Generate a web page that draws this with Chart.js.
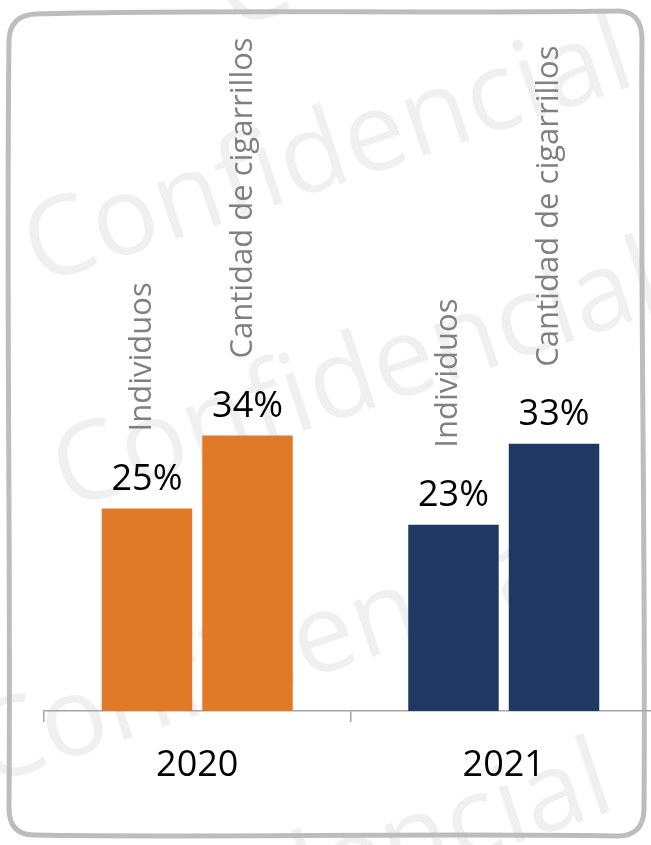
<!DOCTYPE html>
<html>
<head>
<meta charset="utf-8">
<script src="https://cdn.jsdelivr.net/npm/chart.js@4.4.1/dist/chart.umd.min.js"></script>
<style>
  html, body { margin: 0; padding: 0; background: #ffffff; overflow: hidden; }
  #wrap { width: 651px; height: 845px; overflow: hidden; }
</style>
</head>
<body>
<div id="wrap"><canvas id="smokeChart" width="700" height="845"></canvas></div>
<script>
// Chart values
var years = ['2020', '2021'];
var seriesNames = ['Individuos', 'Cantidad de cigarrillos'];
var individuosPct = [25, 23];
var cigarrillosPct = [34, 33];
var yearColors = ['#E07A29', '#203864'];
var yMax = 70;

var FONT = '"Segoe UI", "Open Sans", "Noto Sans", sans-serif';

// Watermark anchors (decoration only)
var watermarkSpots = [[230, 30], [38, 285], [67, 510], [-13, 786], [18, 1010]];

function drawFrame(ctx) {
    ctx.save();
    ctx.strokeStyle = '#bdbdbd';
    ctx.lineWidth = 5;
    ctx.lineJoin = 'round';
    ctx.beginPath();
    ctx.moveTo(36, 14);
    ctx.bezierCurveTo(200, 9, 420, 14, 616, 11);
    ctx.quadraticCurveTo(641, 10, 642, 38);
    ctx.bezierCurveTo(640, 300, 646, 560, 644, 810);
    ctx.quadraticCurveTo(643, 836, 618, 836);
    ctx.bezierCurveTo(420, 833, 200, 838, 34, 835);
    ctx.quadraticCurveTo(9, 835, 9, 808);
    ctx.bezierCurveTo(11, 560, 6, 300, 9, 40);
    ctx.quadraticCurveTo(10, 15, 36, 14);
    ctx.stroke();
    ctx.restore();
}

function drawWatermark(ctx) {
    ctx.save();
    ctx.font = '110px ' + FONT;
    ctx.fillStyle = 'rgba(0, 0, 0, 0.06)';
    ctx.textAlign = 'left';
    ctx.textBaseline = 'alphabetic';
    watermarkSpots.forEach(function(p) {
        ctx.save();
        ctx.translate(p[0], p[1]);
        ctx.rotate(-18.5 * Math.PI / 180);
        ctx.fillText('Confidencial', 0, 0);
        ctx.restore();
    });
    ctx.restore();
}

var backdropPlugin = {
    id: 'backdrop',
    beforeDraw: function(chart) {
        var ctx = chart.ctx;
        ctx.save();
        ctx.fillStyle = '#ffffff';
        ctx.fillRect(0, 0, chart.width, chart.height);
        ctx.restore();
        drawWatermark(ctx);
        drawFrame(ctx);
    }
};

// value labels + rotated series names above each bar
var barLabelsPlugin = {
    id: 'barLabels',
    afterDatasetsDraw: function(chart) {
        var ctx = chart.ctx;
        chart.data.datasets.forEach(function(ds, di) {
            var meta = chart.getDatasetMeta(di);
            meta.data.forEach(function(bar, i) {
                ctx.save();
                ctx.font = '36px ' + FONT;
                ctx.fillStyle = '#000000';
                ctx.textAlign = 'center';
                ctx.textBaseline = 'alphabetic';
                ctx.fillText(ds.data[i] + '%', bar.x, bar.y - 19);

                ctx.translate(bar.x + 4, bar.y - 77);
                ctx.rotate(-Math.PI / 2);
                ctx.font = '31px ' + FONT;
                ctx.fillStyle = '#808080';
                ctx.textAlign = 'left';
                ctx.fillText(ds.label, 0, 0);
                ctx.restore();
            });
        });
    }
};

var ctx = document.getElementById('smokeChart').getContext('2d');
var smokeChart = new Chart(ctx, {
    type: 'bar',
    data: {
        labels: years,
        datasets: [{
            label: seriesNames[0],
            data: individuosPct,
            backgroundColor: yearColors,
            borderWidth: 0,
            categoryPercentage: 0.656,
            barPercentage: 0.9
        }, {
            label: seriesNames[1],
            data: cigarrillosPct,
            backgroundColor: yearColors,
            borderWidth: 0,
            categoryPercentage: 0.656,
            barPercentage: 0.9
        }]
    },
    options: {
        responsive: false,
        animation: false,
        layout: {
            padding: { top: 144, left: 44, right: 43, bottom: 0 }
        },
        plugins: {
            legend: { display: false },
            tooltip: { enabled: false }
        },
        scales: {
            y: {
                display: false,
                min: 0,
                max: yMax
            },
            x: {
                afterFit: function(scale) {
                    scale.height = 134;
                },
                grid: {
                    offset: true,
                    drawOnChartArea: false,
                    drawTicks: true,
                    tickLength: 11,
                    color: '#a6a6a6',
                    lineWidth: 1.5
                },
                border: {
                    color: '#a6a6a6',
                    width: 1.5
                },
                ticks: {
                    color: '#000000',
                    padding: 22,
                    font: { size: 36, family: FONT }
                }
            }
        }
    },
    plugins: [backdropPlugin, barLabelsPlugin]
});
</script>
</body>
</html>
